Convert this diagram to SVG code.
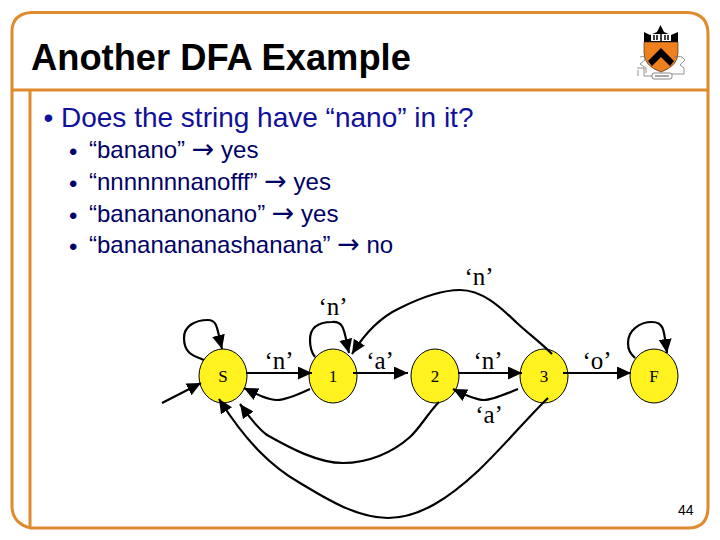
<svg xmlns="http://www.w3.org/2000/svg" width="720" height="540" viewBox="0 0 720 540">
<style>
.frame{fill:none;stroke:#df8a2c;stroke-width:3}
.title{font:bold 36.3px "Liberation Sans",Arial,sans-serif;fill:#000}
.l1{font:28px "Liberation Sans",Arial,sans-serif;fill:#10109a}
.l2{font:24px "Liberation Sans",Arial,sans-serif;fill:#000066}
.arr{font-family:"DejaVu Sans",sans-serif;font-size:27px}
.num{font:14px "Liberation Sans",Arial,sans-serif;fill:#000}
.lab{font:25px "Liberation Serif","Times New Roman",serif;fill:#000;text-anchor:middle}
.st{font:17px "Liberation Serif","Times New Roman",serif;fill:#000;text-anchor:middle}
.node{fill:#fff21e;stroke:#000;stroke-width:1}
.c{fill:none;stroke:#000;stroke-width:2.2;marker-end:url(#ah)}
</style>
<defs>
<marker id="ah" markerUnits="userSpaceOnUse" markerWidth="16" markerHeight="14" refX="14" refY="6.500" orient="auto"><path d="M0 0L14 6.500L0 13Z" fill="#000"/></marker>
</defs>
<rect width="720" height="540" fill="#fff"/>
<g id="frame">
<path class="frame" d="M31 12.500H688Q708 14 708 34V507Q708 528 688 528H31Q13 524 12 507V30Q13 14 31 12.500Z"/>
<path class="frame" d="M12 90H708M30 90V528"/>
</g>
<g id="logo">
<path d="M644 32L650 35L657 32L660.500 25L664 32L671 35L678 32V42H644Z" fill="#000"/>
<path d="M644 42H678V53Q678 66 661 72Q644 66 644 53Z" fill="#f07f1e" stroke="#222" stroke-width=".6"/>
<path d="M661 48L674 61L670 66L661 57L652 66L648 61Z" fill="#000"/>
<rect x="651" y="34" width="20" height="7" fill="#fff"/>
<path d="M654 35v5M657 35v5M661 34v7M665 35v5M668 35v5" stroke="#000" stroke-width="1.500"/>
<rect x="652" y="73" width="20" height="6" rx="2" fill="#fff" stroke="#555" stroke-width=".7"/>
<path d="M655 76h14" stroke="#888" stroke-width="1.500"/>
<path d="M640 57Q646 55 645 60L640 64L646 68V73M637 68H644V76H652M674 57Q682 55 685 60L680 65L684 68V74H672M638 70V76" fill="none" stroke="#777" stroke-width=".8"/>
</g>
<text class="title" x="31" y="70">Another DFA Example</text>
<g id="bullets">
<text class="l1" x="43.500" y="127">•</text>
<text class="l1" x="61" y="127">Does the string have “nano” in it?</text>
<text class="l2" x="69" y="160">•</text><text class="l2" x="89" y="158">“banano” <tspan class="arr">→</tspan> yes</text>
<text class="l2" x="69" y="192">•</text><text class="l2" x="89" y="190">“nnnnnnnanofff” <tspan class="arr">→</tspan> yes</text>
<text class="l2" x="69" y="224">•</text><text class="l2" x="89" y="222">“banananonano” <tspan class="arr">→</tspan> yes</text>
<text class="l2" x="69" y="255">•</text><text class="l2" x="89" y="253">“bananananashanana” <tspan class="arr">→</tspan> no</text>
</g>
<g id="labels">
<text class="lab" x="479" y="285">‘n’</text>
<text class="lab" x="333" y="315">‘n’</text>
<text class="lab" x="279" y="369">‘n’</text>
<text class="lab" x="380" y="369">‘a’</text>
<text class="lab" x="488" y="369">‘n’</text>
<text class="lab" x="597" y="369">‘o’</text>
<text class="lab" x="489" y="423">‘a’</text>
</g>
<g id="node-S"><ellipse class="node" cx="223" cy="376" rx="24" ry="27"/><text class="st" x="223" y="382">S</text></g>
<g id="node-1"><ellipse class="node" cx="333" cy="376" rx="24" ry="27"/><text class="st" x="333" y="382">1</text></g>
<g id="node-2"><ellipse class="node" cx="435" cy="376" rx="24" ry="27"/><text class="st" x="435" y="382">2</text></g>
<g id="node-3"><ellipse class="node" cx="544" cy="376" rx="24" ry="27"/><text class="st" x="544" y="382">3</text></g>
<g id="node-F"><ellipse class="node" cx="654" cy="376" rx="24" ry="27"/><text class="st" x="654" y="382">F</text></g>
<g id="connectors">
<path class="c" d="M162 403L201 383"/>
<path class="c" d="M204 360C194 356 184 354 184 338C184 326 195 320 208 320C218 320 217 330 222 349"/>
<path class="c" d="M246 373H312"/>
<path class="c" d="M310 389C295 396 285 400 277 400C268 400 256 394 244 388"/>
<path class="c" d="M315 357C311 352 310 348 310 340C310 326 320 322 332 322C345 321 344 332 349 353"/>
<path class="c" d="M353 373H408"/>
<path class="c" d="M458 373H522"/>
<path class="c" d="M518 389C503 395 492 400 484 400C476 400 465 395 453 389"/>
<path class="c" d="M563 373H631"/>
<path class="c" d="M635 358C630 353 628 350 628 343C628 330 640 322 652 322C664 322 664 330 667 353"/>
<path class="c" d="M552 354C540 342 530 335 517 323C505 312 485 290 460 290C440 290 420 298 400 308C385 315 368 328 352 354"/>
<path class="c" d="M439 402C428 413 420 428 410 437C392 453 368 463 343 463C318 463 290 448 267 435C255 426 248 415 240 404"/>
<path class="c" d="M548 398C530 415 505 445 478 471C450 497 420 518 388 518C355 518 320 495 300 483C270 466 245 440 219 399"/>
</g>
<text class="num" x="678" y="515">44</text>
</svg>
